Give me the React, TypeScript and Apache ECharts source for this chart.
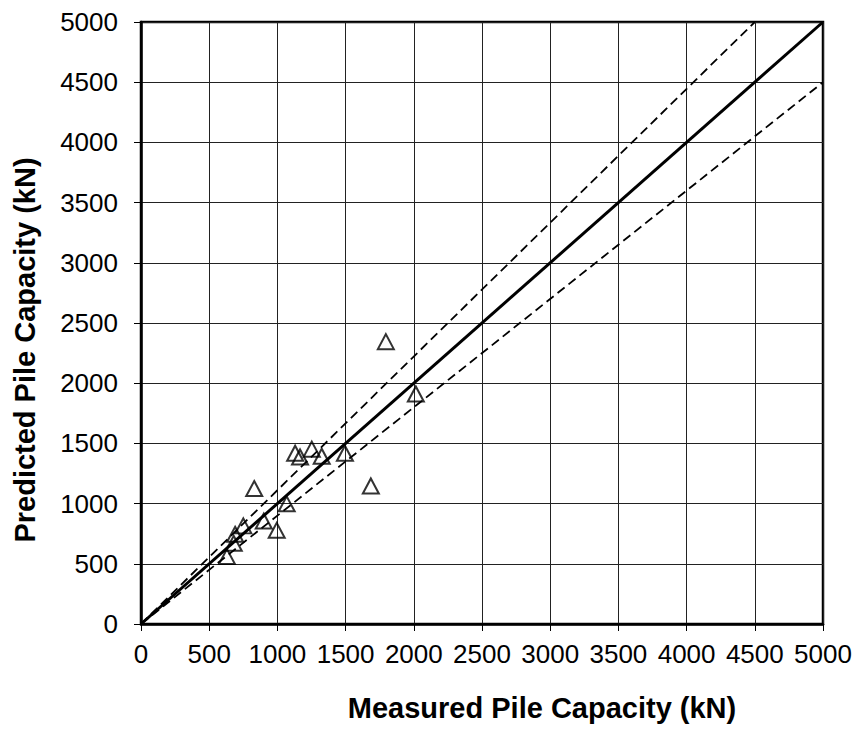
import React, { useEffect, useRef } from "react";
import * as echarts from "echarts";

const measured = [630, 680, 690, 750, 900, 995, 1068, 830, 1130, 1166, 1252, 1325, 1495, 1685, 1795, 2015];
const predicted = [560, 670, 745, 815, 855, 778, 998, 1125, 1418, 1387, 1452, 1393, 1418, 1146, 2345, 1910];
const lineEqual = [[0, 0], [5000, 5000]];
const lineUpper = [[0, 0], [4500, 5000]];
const lineLower = [[0, 0], [5000, 4500]];
const xTitle = "Measured Pile Capacity (kN)";
const yTitle = "Predicted Pile Capacity (kN)";

const FONT = "'Liberation Sans', Arial, sans-serif";

export default function App() {
  const ref = useRef<HTMLDivElement>(null);
  useEffect(() => {
    if (!ref.current) return;
    const chart = echarts.init(ref.current, null, { renderer: "svg" });
    const points = measured.map((m, i) => [m, predicted[i]]);
    const axisCommon = {
      type: "value",
      min: 0,
      max: 5000,
      interval: 500,
      axisLine: { show: true, onZero: false, lineStyle: { color: "#000", width: 2.5 } },
      axisTick: { show: true, inside: false, length: 7, lineStyle: { color: "#000", width: 1 } },
      splitLine: { show: true, lineStyle: { color: "#222", width: 1 } },
      axisLabel: {
        color: "#000",
        fontSize: 26,
        fontFamily: FONT,
        formatter: (v: number) => String(v),
      },
    };
    chart.setOption({
      animation: false,
      backgroundColor: "#fff",
      grid: {
        left: 141,
        top: 22,
        width: 682,
        height: 602,
        show: true,
        borderColor: "#000",
        borderWidth: 2.5,
        backgroundColor: "transparent",
      },
      xAxis: { ...axisCommon, axisLabel: { ...axisCommon.axisLabel, margin: 17 } },
      yAxis: { ...axisCommon, axisLabel: { ...axisCommon.axisLabel, margin: 23 } },
      graphic: [
        {
          type: "text",
          x: 542,
          y: 708,
          style: {
            text: xTitle,
            font: `bold 29px ${FONT}`,
            fill: "#000",
            align: "center",
            verticalAlign: "middle",
          },
        },
        {
          type: "text",
          x: 25,
          y: 350,
          rotation: Math.PI / 2,
          style: {
            text: yTitle,
            font: `bold 29px ${FONT}`,
            fill: "#000",
            align: "center",
            verticalAlign: "middle",
          },
        },
      ],
      series: [
        {
          type: "line",
          data: lineEqual,
          symbol: "none",
          lineStyle: { color: "#000", width: 3 },
          z: 3,
        },
        {
          type: "line",
          data: lineUpper,
          symbol: "none",
          lineStyle: { color: "#000", width: 1.8, type: [9, 5] },
          z: 3,
        },
        {
          type: "line",
          data: lineLower,
          symbol: "none",
          lineStyle: { color: "#000", width: 1.8, type: [9, 5] },
          z: 3,
        },
        {
          type: "scatter",
          data: points,
          symbol: "triangle",
          symbolSize: [16, 15],
          itemStyle: { color: "rgba(0,0,0,0)", borderColor: "#000", borderWidth: 2 },
          z: 5,
        },
      ],
    });
    return () => chart.dispose();
  }, []);
  return (
    <div
      ref={ref}
      style={{ position: "fixed", left: 0, top: 0, width: 858, height: 729 }}
    />
  );
}
